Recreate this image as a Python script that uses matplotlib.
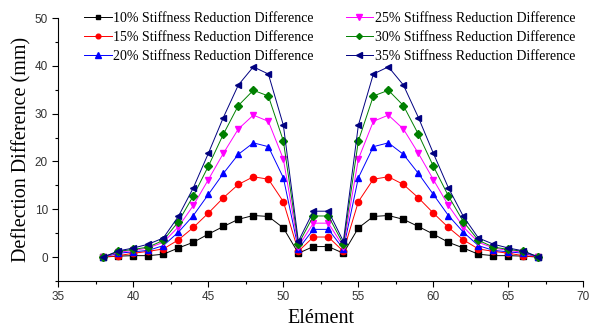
import numpy as np
import matplotlib
matplotlib.use("Agg")
import matplotlib.pyplot as plt
from matplotlib.ticker import MultipleLocator

elements = list(range(38, 68))

red10 = [0, 0.2, 0.3, 0.3, 0.6, 1.9, 3.1, 4.8, 6.4, 7.9, 8.7, 8.5, 6.1, 0.8, 2.2,
         2.2, 0.8, 6.1, 8.5, 8.7, 7.9, 6.4, 4.8, 3.1, 1.9, 0.6, 0.3, 0.3, 0.2, 0]
red15 = [0, 0.3, 0.8, 1.2, 1.7, 3.6, 6.2, 9.2, 12.4, 15.2, 16.8, 16.3, 11.6, 1.2, 4.2,
         4.2, 1.2, 11.6, 16.3, 16.8, 15.2, 12.4, 9.2, 6.2, 3.6, 1.7, 1.2, 0.8, 0.3, 0]
red20 = [0, 0.8, 1.1, 1.4, 2.4, 5.2, 8.7, 13.1, 17.5, 21.5, 23.9, 23.1, 16.6, 1.7, 5.8,
         5.8, 1.7, 16.6, 23.1, 23.9, 21.5, 17.5, 13.1, 8.7, 5.2, 2.4, 1.4, 1.1, 0.8, 0]
red25 = [0, 1.0, 1.4, 1.9, 3.1, 6.3, 10.8, 16.2, 21.7, 26.8, 29.7, 28.4, 20.5, 2.2, 7.1,
         7.1, 2.2, 20.5, 28.4, 29.7, 26.8, 21.7, 16.2, 10.8, 6.3, 3.1, 1.9, 1.4, 1.0, 0]
red30 = [0, 1.2, 1.6, 2.1, 3.5, 7.4, 12.8, 19.0, 25.7, 31.7, 34.9, 33.7, 24.3, 2.7, 8.6,
         8.6, 2.7, 24.3, 33.7, 34.9, 31.7, 25.7, 19.0, 12.8, 7.4, 3.5, 2.1, 1.6, 1.2, 0]
red35 = [0, 1.3, 1.9, 2.7, 4.0, 8.5, 14.5, 21.7, 29.2, 36.0, 39.8, 38.3, 27.6, 3.3, 9.6,
         9.6, 3.3, 27.6, 38.3, 39.8, 36.0, 29.2, 21.7, 14.5, 8.5, 4.0, 2.7, 1.9, 1.3, 0]

labels = ["10% Stiffness Reduction Difference", "15% Stiffness Reduction Difference",
          "20% Stiffness Reduction Difference", "25% Stiffness Reduction Difference",
          "30% Stiffness Reduction Difference", "35% Stiffness Reduction Difference"]
series = [red10, red15, red20, red25, red30, red35]
colors = ["black", "red", "blue", "magenta", "#008000", "#000080"]
markers = ["s", "o", "^", "v", "D", "<"]
msizes = [4, 4.5, 5, 5, 4, 5]

fig = plt.figure(figsize=(5.92, 3.27), dpi=100)
ax = fig.add_axes([0.0985, 0.1407, 0.887, 0.804])

for y, lab, c, m, ms in zip(series, labels, colors, markers, msizes):
    ax.plot(elements, y, color=c, marker=m, markersize=ms, lw=0.7, label=lab)

ax.set_xlim(35, 70)
ax.set_ylim(-5, 50)
ax.xaxis.set_major_locator(MultipleLocator(5))
ax.xaxis.set_minor_locator(MultipleLocator(2.5))
ax.yaxis.set_major_locator(MultipleLocator(10))
ax.yaxis.set_minor_locator(MultipleLocator(5))
ax.set_yticks([0, 10, 20, 30, 40, 50])
ax.spines["top"].set_visible(False)
ax.spines["right"].set_visible(False)
ax.tick_params(which="major", direction="out", length=4, width=0.8, labelsize=8.5)
ax.tick_params(which="minor", direction="out", length=2, width=0.8)
for t in ax.get_xticklabels() + ax.get_yticklabels():
    t.set_family("Liberation Sans")
    t.set_color("#333333")

ax.set_xlabel("Elément", family="Liberation Serif", fontsize=14.5, labelpad=4)
ax.set_ylabel("Deflection Difference (mm)", family="Liberation Serif", fontsize=14.5, labelpad=2)

leg = ax.legend(loc="upper left", bbox_to_anchor=(0.13, 0.984), bbox_transform=fig.transFigure,
                ncol=2, frameon=False, borderpad=0, handlelength=2.0, handletextpad=0.1,
                labelspacing=0.43, columnspacing=2.3, markerscale=0.75,
                prop={"family": "Liberation Serif", "size": 10})

fig.savefig("out.png", dpi=100)
